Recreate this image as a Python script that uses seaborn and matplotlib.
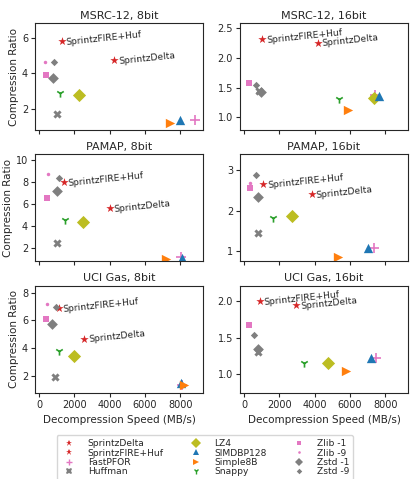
import numpy as np
import pandas as pd
import seaborn as sns
import matplotlib
matplotlib.use('Agg')
import matplotlib.pyplot as plt
from matplotlib.lines import Line2D

# -------- data --------
algos = ['SprintzDelta', 'SprintzFIRE+Huf', 'FastPFOR', 'Huffman', 'LZ4', 'SIMDBP128',
         'Simple8B', 'Snappy', 'Zlib -1', 'Zlib -9', 'Zstd -1', 'Zstd -9']

titles = ['MSRC-12, 8bit', 'MSRC-12, 16bit', 'PAMAP, 8bit', 'PAMAP, 16bit',
          'UCI Gas, 8bit', 'UCI Gas, 16bit']

msrc8_speed = [4260, 1290, 8860, 1040, 2270, 8010, 7440, 1210, 380, 340, 780, 850]
msrc8_ratio = [4.75, 5.81, 1.38, 1.72, 2.79, 1.38, 1.21, 2.90, 3.94, 4.62, 3.72, 4.62]

msrc16_speed = [4170, 1040, 7420, 870, 7370, 7670, 5910, 5360, 280, 290, 930, 660]
msrc16_ratio = [2.26, 2.32, 1.37, 1.44, 1.33, 1.35, 1.12, 1.30, 1.58, 1.57, 1.42, 1.55]

pamap8_speed = [4000, 1420, 8030, 1040, 2500, 8100, 7220, 1480, 455, 490, 985, 1120]
pamap8_ratio = [5.64, 7.98, 1.19, 2.42, 4.35, 1.07, 1.01, 4.56, 6.51, 8.71, 7.20, 8.38]

pamap16_speed = [3830, 1100, 7390, 800, 2730, 7010, 5320, 1630, 320, 340, 800, 680]
pamap16_ratio = [2.41, 2.65, 1.07, 1.44, 1.86, 1.07, 0.85, 1.82, 2.57, 2.69, 2.34, 2.89]

uci8_speed = [2560, 1100, 8100, 910, 1970, 8050, 8200, 1120, 380, 440, 740, 930]
uci8_ratio = [4.69, 6.90, 1.35, 1.88, 3.39, 1.45, 1.33, 3.80, 6.10, 7.16, 5.77, 6.97]

uci16_speed = [2970, 910, 7480, 800, 4740, 7180, 5760, 3410, 265, 780, 790, 550]
uci16_ratio = [1.95, 2.00, 1.23, 1.31, 1.15, 1.22, 1.05, 1.16, 1.67, 1.35, 1.34, 1.54]

speeds = [msrc8_speed, msrc16_speed, pamap8_speed, pamap16_speed, uci8_speed, uci16_speed]
ratios = [msrc8_ratio, msrc16_ratio, pamap8_ratio, pamap16_ratio, uci8_ratio, uci16_ratio]

ylims = [(0.8, 6.85), (0.78, 2.59), (0.76, 10.5), (0.75, 3.39), (0.76, 8.53), (0.75, 2.21)]
yticks = [[2, 4, 6], [1.0, 1.5, 2.0, 2.5], [2, 4, 6, 8, 10], [1, 2, 3], [2, 4, 6, 8], [1.0, 1.5, 2.0]]

# -------- styles --------
colors = {'SprintzDelta': 'tab:red', 'SprintzFIRE+Huf': 'tab:red', 'FastPFOR': 'tab:pink',
          'Huffman': 'tab:gray', 'LZ4': 'tab:olive', 'SIMDBP128': 'tab:blue',
          'Simple8B': 'tab:orange', 'Snappy': 'tab:green', 'Zlib -1': 'tab:pink',
          'Zlib -9': 'tab:pink', 'Zstd -1': 'tab:gray', 'Zstd -9': 'tab:gray'}
markers = {'SprintzDelta': '*', 'SprintzFIRE+Huf': '*', 'FastPFOR': '+', 'Huffman': 'X',
           'LZ4': 'D', 'SIMDBP128': '^', 'Simple8B': '>', 'Snappy': '1', 'Zlib -1': 's',
           'Zlib -9': '.', 'Zstd -1': 'D', 'Zstd -9': 'D'}
sizes = {'SprintzDelta': 40, 'SprintzFIRE+Huf': 40, 'FastPFOR': 45, 'Huffman': 35,
         'LZ4': 45, 'SIMDBP128': 45, 'Simple8B': 45, 'Snappy': 35, 'Zlib -1': 18,
         'Zlib -9': 25, 'Zstd -1': 30, 'Zstd -9': 14}

sns.set_style('ticks')
plt.rcParams['font.family'] = ['DejaVu Sans']
plt.rcParams['xtick.labelsize'] = 7
plt.rcParams['ytick.labelsize'] = 7

fig, axes = plt.subplots(3, 2, figsize=(4.13, 4.79), dpi=100, sharex=True)
fig.subplots_adjust(left=0.085, right=0.988, top=0.952, bottom=0.180, wspace=0.22, hspace=0.225)

for i, ax in enumerate(axes.flat):
    df = pd.DataFrame({'algo': algos, 'speed': speeds[i], 'ratio': ratios[i]})
    for a in algos:
        sub = df[df['algo'] == a]
        sns.scatterplot(data=sub, x='speed', y='ratio', ax=ax, color=colors[a],
                        marker=markers[a], s=sizes[a], linewidth=1.2 if markers[a] in ('+', '1') else 0,
                        legend=False)
    # labels next to Sprintz points
    for j in (1, 0):
        ax.annotate(algos[j], (speeds[i][j], ratios[i][j]), xytext=(3, -1),
                    textcoords='offset points', fontsize=6.6, rotation=6,
                    va='center', ha='left', rotation_mode='anchor')
    ax.set_title(titles[i], fontsize=8, pad=3)
    ax.set_xlim(-230, 9300)
    ax.set_ylim(*ylims[i])
    ax.set_yticks(yticks[i])
    ax.set_xticks([0, 2000, 4000, 6000, 8000])
    ax.tick_params(length=3, width=0.8, pad=2)
    ax.set_xlabel('Decompression Speed (MB/s)' if i >= 4 else '', fontsize=7.5)
    ax.set_ylabel('Compression Ratio' if i % 2 == 0 else '', fontsize=7.5, labelpad=2)
    for sp in ax.spines.values():
        sp.set_linewidth(0.8)

handles = []
for a in algos:
    ms = np.sqrt(sizes[a]) * 0.75
    handles.append(Line2D([], [], linestyle='none', marker=markers[a], color=colors[a],
                          markersize=ms, markeredgewidth=1.0 if markers[a] in ('+', '1') else 0))
fig.legend(handles, algos, loc='lower center', bbox_to_anchor=(0.496, -0.012), ncol=3,
           fontsize=6.6, labelspacing=0.05, columnspacing=2.5, handletextpad=1.0,
           borderpad=0.4, frameon=True)

plt.savefig('out.png', dpi=100)
